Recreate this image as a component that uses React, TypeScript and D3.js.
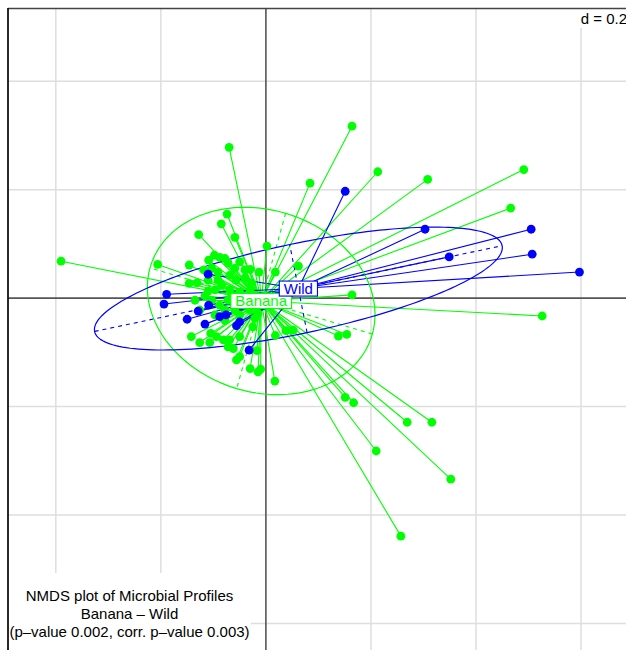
import React, { useEffect, useRef } from "react";
import * as d3 from "d3";

// NMDS coordinates (axis 1, axis 2) per group
const bananaPoints: [number, number][] = [
  [-0.390, 0.068], [-0.070, 0.278], [0.164, 0.317], [0.213, 0.233], [0.084, 0.212],
  [0.308, 0.219], [0.491, 0.237], [0.466, 0.166], [0.526, -0.033], [0.164, 0.006],
  [0.138, -0.070], [0.154, -0.067], [0.151, -0.183], [0.167, -0.193], [0.269, -0.229],
  [0.316, -0.229], [0.210, -0.282], [0.352, -0.334], [0.257, -0.439], [0.017, -0.153],
  [-0.206, 0.062], [-0.074, 0.155], [-0.085, 0.137], [-0.128, 0.117], [-0.059, 0.112],
  [0.002, 0.096], [0.062, 0.059], [0.038, -0.060], [0.052, -0.059], [0.018, -0.069],
  [-0.017, -0.097], [-0.030, -0.130], [-0.015, -0.136], [-0.010, -0.131], [-0.056, -0.114],
  [-0.050, -0.108], [-0.072, -0.090], [-0.062, -0.093], [-0.142, -0.071], [-0.126, -0.082],
  [-0.105, -0.065], [-0.094, -0.071], [-0.107, -0.082], [-0.081, -0.077], [-0.069, -0.077],
  [-0.050, -0.071], [-0.025, -0.053], [-0.146, 0.061], [-0.146, 0.027], [-0.110, 0.013],
  [-0.109, 0.070], [-0.088, 0.075], [-0.078, 0.073], [-0.072, 0.065], [-0.050, 0.067],
  [-0.030, 0.053], [-0.013, 0.048], [0.018, 0.048], [-0.098, 0.079],
  [-0.131, 0.028], [-0.118, 0.052], [-0.103, 0.055], [-0.091, 0.048], [-0.069, 0.042],
  [-0.057, 0.033], [-0.040, 0.037], [-0.027, 0.028], [-0.116, 0.004], [-0.097, 0.015],
  [-0.084, 0.024], [-0.069, 0.015], [-0.050, 0.011], [-0.103, -0.004], [-0.088, -0.013],
  [-0.072, -0.004], [-0.135, -0.004], [-0.126, -0.022], [-0.097, -0.031], [-0.078, -0.022],
  [-0.059, -0.022], [-0.040, -0.013], [-0.030, -0.022], [-0.050, -0.031], [-0.021, -0.037],
  [-0.015, -0.028], [-0.030, 0.015], [-0.059, 0.055], [-0.040, 0.052], [-0.091, 0.033],
  [-0.110, 0.033], [-0.078, -0.041], [-0.065, 0.006],
  [-0.040, 0.000], [-0.021, 0.004], [-0.008, -0.007], [0.008, -0.004], [0.023, -0.011],
  [-0.030, -0.011], [-0.002, 0.004], [0.036, 0.000],
];

const wildPoints: [number, number][] = [
  [0.151, 0.197], [0.303, 0.127], [0.505, 0.127], [0.349, 0.076], [0.507, 0.081],
  [0.597, 0.048], [-0.110, 0.044], [-0.189, 0.007], [-0.194, -0.011], [-0.129, -0.024],
  [-0.109, -0.013], [-0.150, -0.039], [-0.116, -0.048], [-0.088, -0.034], [-0.076, -0.031],
  [-0.056, -0.051], [-0.050, -0.044], [-0.032, -0.096],
];

const groupNames = ["Banana", "Wild"];
const groupColors = ["#00ff00", "#0000ff"];

const xLim = [-0.491, 0.697];
const yLim = [-0.649, 0.535];
const gridStep = 0.2;

const titleLines = [
  "NMDS plot of Microbial Profiles",
  "Banana \u2013 Wild",
  "(p\u2013value 0.002, corr. p\u2013value 0.003)",
];

const W = 626;
const H = 650;
const font = "'Liberation Sans', Arial, Helvetica, sans-serif";

// centroid + 1.5 sd ellipse, like ade4::s.class
function groupStats(pts: [number, number][]) {
  const n = pts.length;
  const mx = d3.mean(pts, (d) => d[0]) as number;
  const my = d3.mean(pts, (d) => d[1]) as number;
  let vxx = 0, vyy = 0, vxy = 0;
  pts.forEach(([x, y]) => {
    vxx += (x - mx) * (x - mx);
    vyy += (y - my) * (y - my);
    vxy += (x - mx) * (y - my);
  });
  vxx /= n; vyy /= n; vxy /= n;
  const tr = vxx + vyy;
  const det = vxx * vyy - vxy * vxy;
  const disc = Math.sqrt(Math.max(tr * tr / 4 - det, 0));
  const l1 = tr / 2 + disc;
  const l2 = Math.max(tr / 2 - disc, 0);
  let ux = vxy, uy = l1 - vxx;
  if (Math.abs(ux) < 1e-12 && Math.abs(uy) < 1e-12) { ux = 1; uy = 0; }
  const len = Math.hypot(ux, uy);
  ux /= len; uy /= len;
  const a = 1.5 * Math.sqrt(l1);
  const b = 1.5 * Math.sqrt(l2);
  return { mx, my, ux, uy, a, b };
}

const App = () => {
  const ref = useRef<SVGSVGElement>(null);

  useEffect(() => {
    const svg = d3.select(ref.current);
    svg.selectAll("*").remove();

    const x = d3.scaleLinear().domain(xLim).range([8, 632]);
    const y = d3.scaleLinear().domain(yLim).range([650, 8]);

    // background grid
    const grid = svg.append("g").attr("stroke", "#dedede").attr("stroke-width", 1.5);
    const gx = d3.range(Math.ceil(xLim[0] / gridStep), Math.floor(xLim[1] / gridStep) + 1)
      .map((k) => k * gridStep).filter((v) => Math.abs(v) > 1e-9);
    const gy = d3.range(Math.ceil(yLim[0] / gridStep), Math.floor(yLim[1] / gridStep) + 1)
      .map((k) => k * gridStep).filter((v) => Math.abs(v) > 1e-9);
    grid.selectAll(".gx").data(gx).enter().append("line")
      .attr("x1", (d) => x(d)).attr("x2", (d) => x(d)).attr("y1", 8).attr("y2", H);
    grid.selectAll(".gy").data(gy).enter().append("line")
      .attr("y1", (d) => y(d)).attr("y2", (d) => y(d)).attr("x1", 8).attr("x2", W);

    // origin lines
    svg.append("line").attr("x1", x(0)).attr("x2", x(0)).attr("y1", 8).attr("y2", H)
      .attr("stroke", "#555").attr("stroke-width", 1.6);
    svg.append("line").attr("y1", y(0)).attr("y2", y(0)).attr("x1", 8).attr("x2", W)
      .attr("stroke", "#555").attr("stroke-width", 1.6);

    // d = 0.2 box
    svg.append("rect").attr("x", 578).attr("y", 9).attr("width", 60).attr("height", 19).attr("fill", "white");
    svg.append("text").attr("x", 627).attr("y", 24).attr("text-anchor", "end")
      .attr("font-family", font).attr("font-size", 15).text(`d = ${gridStep}`);

    const groups = [bananaPoints, wildPoints];
    const stats = groups.map(groupStats);

    // stars
    groups.forEach((pts, i) => {
      const s = stats[i];
      svg.append("g").selectAll("line").data(pts).enter().append("line")
        .attr("x1", (d) => x(d[0])).attr("y1", (d) => y(d[1]))
        .attr("x2", x(s.mx)).attr("y2", y(s.my))
        .attr("stroke", groupColors[i]).attr("stroke-width", 1.1);
    });

    // ellipses and their axes
    groups.forEach((_, i) => {
      const s = stats[i];
      const vx = -s.uy, vy = s.ux;
      const ring = d3.range(0, 361, 2).map((deg) => {
        const t = (deg * Math.PI) / 180;
        return [
          s.mx + s.a * Math.cos(t) * s.ux + s.b * Math.sin(t) * vx,
          s.my + s.a * Math.cos(t) * s.uy + s.b * Math.sin(t) * vy,
        ];
      });
      svg.append("path")
        .attr("d", d3.line().x((d) => x(d[0])).y((d) => y(d[1]))(ring as [number, number][]))
        .attr("fill", "none").attr("stroke", groupColors[i]).attr("stroke-width", 1.2);
      const axes = [
        [s.mx - s.a * s.ux, s.my - s.a * s.uy, s.mx + s.a * s.ux, s.my + s.a * s.uy],
        [s.mx - s.b * vx, s.my - s.b * vy, s.mx + s.b * vx, s.my + s.b * vy],
      ];
      svg.append("g").selectAll("line").data(axes).enter().append("line")
        .attr("x1", (d) => x(d[0])).attr("y1", (d) => y(d[1]))
        .attr("x2", (d) => x(d[2])).attr("y2", (d) => y(d[3]))
        .attr("stroke", groupColors[i]).attr("stroke-width", 1.1)
        .attr("stroke-dasharray", "4,4");
    });

    // points
    groups.forEach((pts, i) => {
      svg.append("g").selectAll("circle").data(pts).enter().append("circle")
        .attr("cx", (d) => x(d[0])).attr("cy", (d) => y(d[1])).attr("r", 4.4)
        .attr("fill", groupColors[i]);
    });

    // group labels
    groups.forEach((_, i) => {
      const s = stats[i];
      const g = svg.append("g");
      const rect = g.append("rect");
      const t = g.append("text").attr("x", x(s.mx)).attr("y", y(s.my) + 5.4)
        .attr("text-anchor", "middle").attr("font-family", font).attr("font-size", 15)
        .attr("fill", groupColors[i]).text(groupNames[i]);
      const tw = (t.node() as SVGTextElement).getComputedTextLength();
      rect.attr("x", x(s.mx) - tw / 2 - 4.5).attr("y", y(s.my) - 7.5)
        .attr("width", tw + 9).attr("height", 15)
        .attr("fill", "white").attr("stroke", groupColors[i]).attr("stroke-width", 1.1);
    });

    // frame
    svg.append("line").attr("x1", 8).attr("x2", W).attr("y1", 8.5).attr("y2", 8.5)
      .attr("stroke", "#444").attr("stroke-width", 1.5);
    svg.append("line").attr("x1", 8).attr("x2", 8).attr("y1", 8).attr("y2", H)
      .attr("stroke", "#111").attr("stroke-width", 1.8);

    // subtitle box
    svg.append("rect").attr("x", 9).attr("y", 573).attr("width", 242).attr("height", 80).attr("fill", "white");
    svg.append("g").selectAll("text").data(titleLines).enter().append("text")
      .attr("x", 129.5).attr("y", (_, i) => 601 + i * 18)
      .attr("text-anchor", "middle").attr("font-family", font).attr("font-size", 15)
      .text((d) => d);
  }, []);

  return (
    <svg
      ref={ref}
      width={W}
      height={H}
      style={{ position: "absolute", left: 0, top: 0, background: "white" }}
    />
  );
};

export default App;
